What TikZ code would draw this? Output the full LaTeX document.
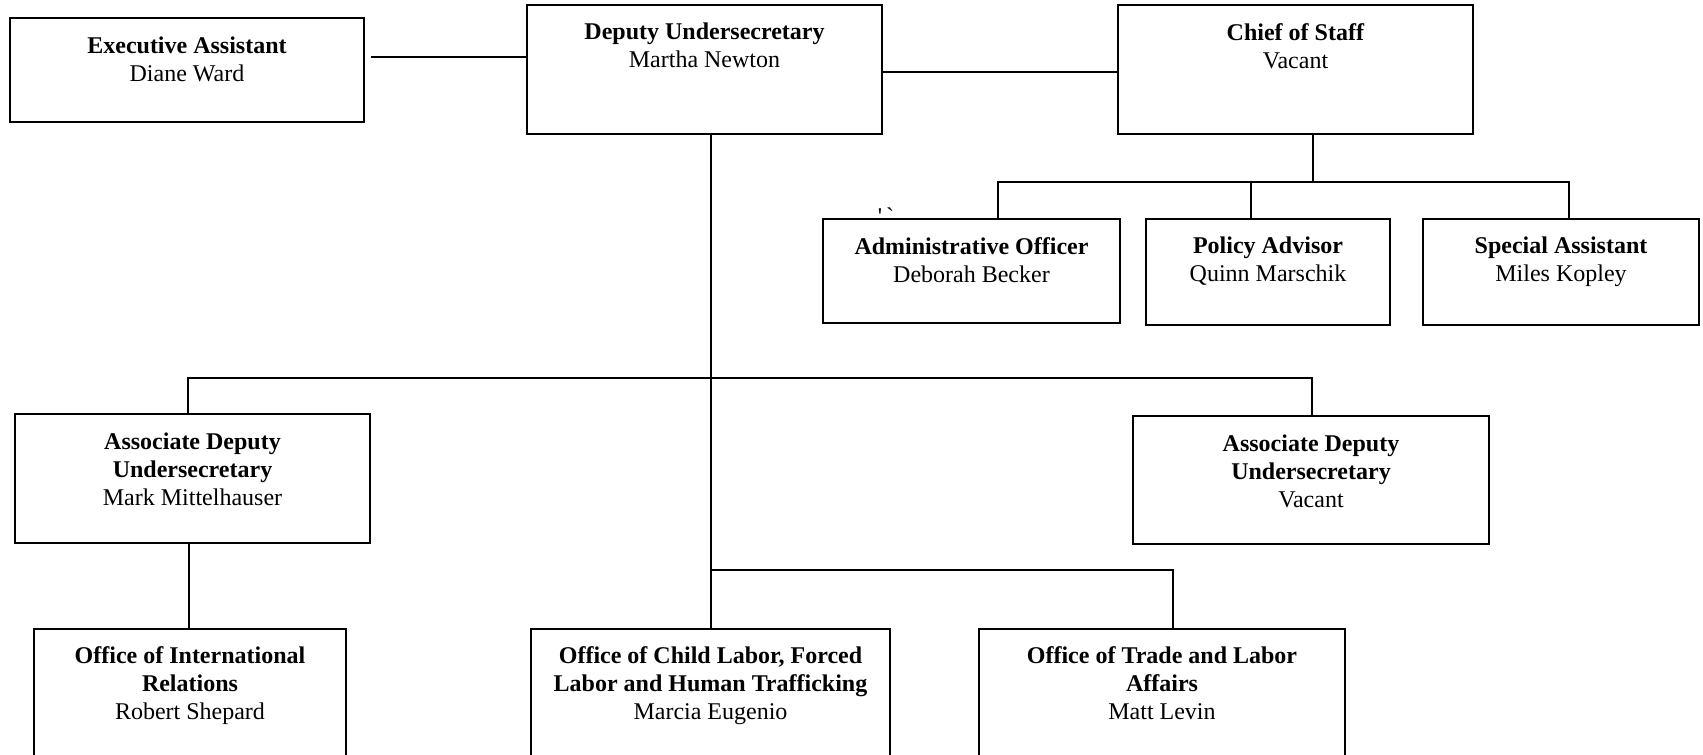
\documentclass[tikz,border=0pt]{standalone}
\usepackage{fontspec}
\setmainfont{Liberation Serif}
\usetikzlibrary{fit,calc}
\tikzset{
  orgbox/.style={draw, line width=1.1pt, inner sep=0pt},
  orgtext/.style={anchor=north, align=center, inner sep=0pt,
    font=\fontsize{12}{14}\selectfont},
  link/.style={line width=0.9pt},
}
% box from corner (#2) to corner (#3), label placed #4 below its top edge
\newcommand\orgunit[5]{%
  \node[orgbox, fit={(#2) (#3)}] (#1) {};
  \node[orgtext] (#1-t) at ([yshift=-#4]#1.north) {#5};
}
\begin{document}
\begin{tikzpicture}[x=0.5pt, y=-0.5pt]
  \clip (0,0) rectangle (1703,755);

  % top row
  \orgunit{exec}{10,18}{364,122}{10pt}{\textbf{Executive Assistant}\\Diane Ward}
  \orgunit{du}{527,5}{882,134}{9.5pt}{\textbf{Deputy Undersecretary}\\Martha Newton}
  \orgunit{cos}{1118,5}{1473,134}{9.5pt}{\textbf{Chief of Staff}\\Vacant}

  % staff under the chief of staff
  \orgunit{admin}{823,219}{1120,323}{9.5pt}{\textbf{Administrative Officer}\\Deborah Becker}
  \orgunit{policy}{1146,219}{1390,325}{9.5pt}{\textbf{Policy Advisor}\\Quinn Marschik}
  \orgunit{special}{1423,219}{1699,325}{9.5pt}{\textbf{Special Assistant}\\Miles Kopley}

  % associate deputies
  \orgunit{adul}{15,414}{370,543}{10pt}{\textbf{Associate Deputy}\\\textbf{Undersecretary}\\Mark Mittelhauser}
  \orgunit{adur}{1133,416}{1489,544}{10pt}{\textbf{Associate Deputy}\\\textbf{Undersecretary}\\Vacant}

  % offices (run past the lower edge)
  \orgunit{intl}{34,629}{346,800}{9pt}{\textbf{Office of International}\\\textbf{Relations}\\Robert Shepard}
  \orgunit{child}{531,629}{890,800}{9pt}{\textbf{Office of Child Labor, Forced}\\\textbf{Labor and Human Trafficking}\\Marcia Eugenio}
  \orgunit{trade}{979,629}{1345,800}{9pt}{\textbf{Office of Trade and Labor}\\\textbf{Affairs}\\Matt Levin}

  % stray marks
  \node[anchor=north, inner sep=0pt, font=\fontsize{12}{14}\selectfont] (marks)
    at (886,207) {\textquotesingle\,\textasciigrave};

  % junction points
  \coordinate (ex)   at ($(exec.north east)+(6,40)$);
  \coordinate (cbar) at (1313,182);
  \coordinate (admx) at (998,182);
  \coordinate (polx) at (1251,182);
  \coordinate (spcx) at (1569,182);
  \coordinate (dux)  at (711,378);
  \coordinate (lbar) at (188,378);
  \coordinate (rbar) at (1312,378);
  \coordinate (ldn)  at (189,600);
  \coordinate (tdn)  at (1173,570);

  % connectors
  \draw[link] (ex) -- (ex -| du.west);
  \draw[link] ([yshift=-1.25pt]du.east) -- ([yshift=-1.25pt]cos.west);
  \draw[link] (cos.south -| cbar) -- (cbar);
  \draw[link] (admin.north -| admx) |- (spcx) -- (special.north -| spcx);
  \draw[link] (polx) -- (policy.north -| polx);
  \draw[link] (du.south -| dux) -- (child.north -| dux);
  \draw[link] (adul.north -| lbar) |- (rbar) -- (adur.north -| rbar);
  \draw[link] (adul.south -| ldn) -- (intl.north -| ldn);
  \draw[link] (tdn -| dux) -- (tdn) -- (trade.north -| tdn);
\end{tikzpicture}
\end{document}
